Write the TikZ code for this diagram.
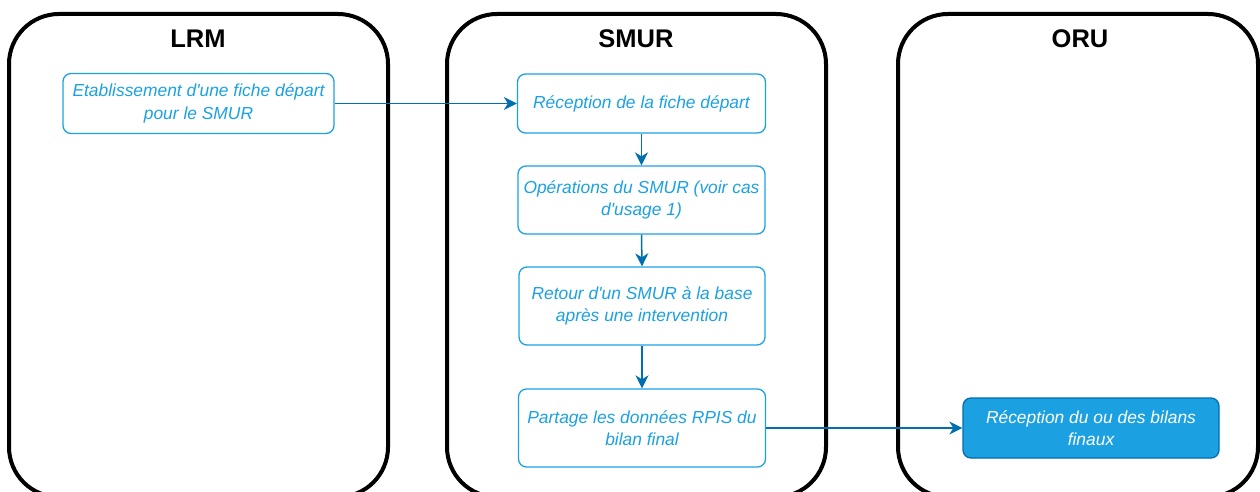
\documentclass[tikz,border=0pt]{standalone}
\usepackage{fontspec}
\setmainfont{Liberation Sans}[Ligatures=TeXOff]
\usetikzlibrary{arrows.meta}
\definecolor{txtblue}{HTML}{1BA1E2}
\definecolor{arrblue}{HTML}{006EAF}
\begin{document}
\begin{tikzpicture}[x=1pt,y=-1pt,
  lane/.style={draw=black,line width=4pt,rounded corners=50pt},
  lanetitle/.style={font=\fontsize{25.5}{30}\selectfont\bfseries,inner sep=0pt,anchor=center},
  stepbox/.style={draw=txtblue,line width=1.3pt,rounded corners=8pt,text=txtblue,
    font=\fontsize{17.4}{22.5}\selectfont\itshape,align=center,inner sep=0pt,
    minimum width=#1},
  finalbox/.style={draw=arrblue,fill=txtblue,line width=1.3pt,rounded corners=8pt,text=white,
    font=\fontsize{17.4}{22.5}\selectfont\itshape,align=center,inner sep=0pt,
    minimum width=256pt,minimum height=60pt},
  flow/.style={draw=arrblue,line width=1.5pt,-{Stealth[length=13pt,width=13pt,inset=4pt]}}
]
\useasboundingbox (0,0) rectangle (1260,492);
% lanes
\draw[lane] (9,14) rectangle (388,497);
\draw[lane] (447,14) rectangle (826,497);
\draw[lane] (898,14) rectangle (1258,497);
\node[lanetitle] (tLRM) at (198,39) {LRM};
\node[lanetitle] (tSMUR) at (636,39) {SMUR};
\node[lanetitle] (tORU) at (1080,39) {ORU};
% boxes
\node[stepbox=271pt,minimum height=60pt] (a) at (198.5,103.5) {Etablissement d'une fiche départ\\pour le SMUR};
\node[stepbox=248pt,minimum height=59pt] (b) at (641.5,103.5) {Réception de la fiche départ};
\node[stepbox=247pt,minimum height=68pt] (c) at (641.5,200) {Opérations du SMUR (voir cas\\d'usage 1)};
\node[stepbox=246pt,minimum height=78pt] (d) at (642,306) {Retour d'un SMUR à la base\\après une intervention};
\node[stepbox=247pt,minimum height=78pt] (e) at (642,428) {Partage les données RPIS du\\bilan final};
\node[finalbox] (f) at (1091,428) {Réception du ou des bilans\\finaux};
% connectors
\draw[flow] (a.east) -- (b.west);
\draw[flow] (b.south) -- (c.north);
\draw[flow] (c.south) -- (d.north);
\draw[flow] (d.south) -- (e.north);
\draw[flow] (e.east) -- (f.west);
\end{tikzpicture}
\end{document}
